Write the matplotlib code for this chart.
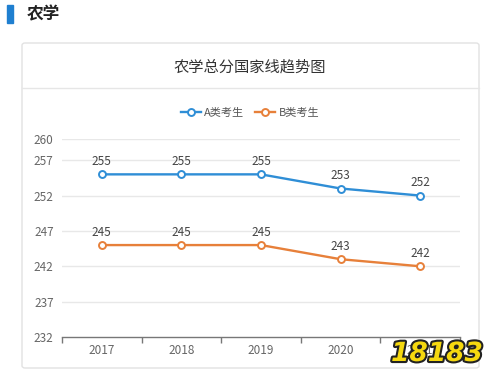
import matplotlib
matplotlib.use("Agg")
import matplotlib.pyplot as plt
from matplotlib.patches import Rectangle, FancyBboxPatch
import matplotlib.patheffects as pe

plt.rcParams['font.family'] = ['Noto Sans CJK SC', 'DejaVu Sans']

years = ['2017', '2018', '2019', '2020', '2021']
a_scores = [255, 255, 255, 253, 252]
b_scores = [245, 245, 245, 243, 242]
yticks = [232, 237, 242, 247, 252, 257, 260]
series_names = ['A类考生', 'B类考生']
chart_title = '农学总分国家线趋势图'
section_title = '农学'

W, H = 500, 387
fig = plt.figure(figsize=(W / 100, H / 100), dpi=100)
fig.patch.set_facecolor('white')

def fx(px):
    return px / W

def fy(py):
    return 1 - py / H

# section header
fig.patches.append(Rectangle((fx(7), fy(23)), fx(6) - fx(0), fy(5) - fy(23),
                             transform=fig.transFigure, color='#1f7fd0', zorder=-2))
fig.text(fx(27), fy(14), section_title, fontsize=12, fontweight='bold',
         color='#222222', va='center', ha='left')

# card
fig.patches.append(FancyBboxPatch((fx(22), fy(368)), fx(479) - fx(22), fy(43) - fy(368),
                                  boxstyle='round,pad=0,rounding_size=0.006',
                                  transform=fig.transFigure, facecolor='white',
                                  edgecolor='#e2e2e2', linewidth=1.0, zorder=-2))
fig.lines.append(plt.Line2D([fx(22), fx(479)], [fy(88), fy(88)],
                            transform=fig.transFigure, color='#e6e6e6', linewidth=1.0,
                            zorder=-1))
fig.text(0.5, fy(67), chart_title, fontsize=11, color='#333333', ha='center', va='center')

ax = fig.add_axes([fx(62), fy(337), fx(460) - fx(62), fy(139) - fy(337)])
ax.set_zorder(2)
ax.set_facecolor('none')

blue = '#2f8ed6'
orange = '#e7803a'
x = list(range(len(years)))
la, = ax.plot(x, a_scores, color=blue, lw=1.7, marker='o', ms=5,
              mfc='white', mec=blue, mew=1.4, zorder=3, label=series_names[0])
lb, = ax.plot(x, b_scores, color=orange, lw=1.7, marker='o', ms=5,
              mfc='white', mec=orange, mew=1.4, zorder=3, label=series_names[1])

for xi, v in zip(x, a_scores):
    ax.annotate(str(v), (xi, v), xytext=(0, 4.5), textcoords='offset points',
                ha='center', va='bottom', fontsize=8.5, color='#444444')
for xi, v in zip(x, b_scores):
    ax.annotate(str(v), (xi, v), xytext=(0, 4.5), textcoords='offset points',
                ha='center', va='bottom', fontsize=8.5, color='#444444')

ax.set_xlim(-0.5, len(years) - 0.5)
ax.set_ylim(232, 260)
ax.set_yticks(yticks)
ax.set_yticklabels([str(t) for t in yticks])
ax.set_xticks(x)
ax.set_xticklabels(years)
ax.set_xticks([i - 0.5 for i in range(len(years) + 1)], minor=True)

for t in yticks[1:]:
    ax.axhline(t, color='#e8e8e8', lw=1.0, zorder=1)

for s in ['top', 'right', 'left']:
    ax.spines[s].set_visible(False)
ax.spines['bottom'].set_color('#777777')
ax.spines['bottom'].set_linewidth(1.0)
ax.tick_params(axis='y', length=0, pad=6, labelsize=8.5, labelcolor='#666666')
ax.tick_params(axis='x', which='major', length=0, pad=5, labelsize=8.5, labelcolor='#666666')
ax.tick_params(axis='x', which='minor', length=4, color='#777777', width=1.0)

fig.legend(handles=[la, lb], loc='center', bbox_to_anchor=(0.5, fy(113)), ncol=2,
           frameon=False, fontsize=8, handlelength=1.8, columnspacing=1.0,
           handletextpad=0.3, labelcolor='#555555')

# watermark
fig.text(fx(437), fy(354), '18183', fontsize=19, fontweight='bold', fontstyle='italic',
         color='#f5d80f', ha='center', va='center', family='DejaVu Sans',
         path_effects=[pe.withStroke(linewidth=3, foreground='#222222')], zorder=10)

fig.savefig('out.png', dpi=100, facecolor='white')
